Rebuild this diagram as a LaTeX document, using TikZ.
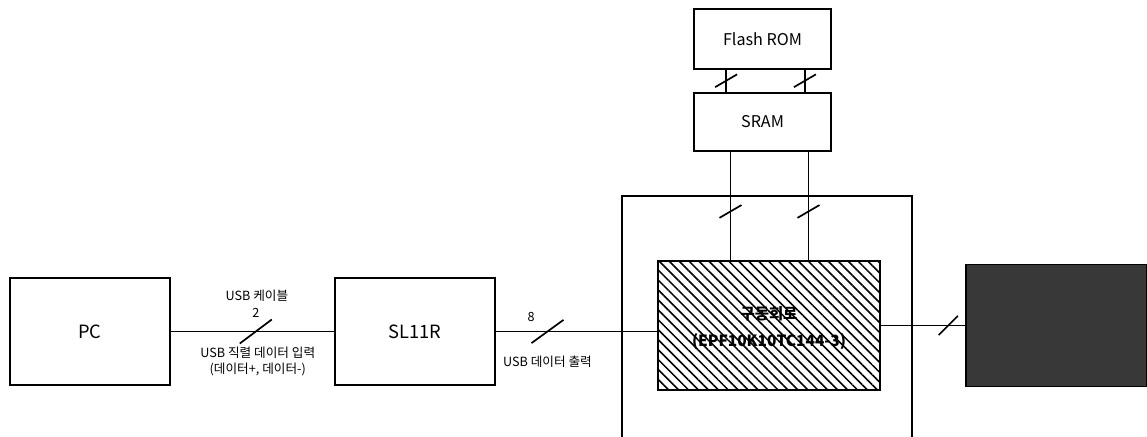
\documentclass[tikz,border=0pt]{standalone}
\usepackage{fontspec}
\setmainfont{Noto Sans CJK KR}
\usetikzlibrary{positioning, calc, patterns.meta}

\begin{document}
\begin{tikzpicture}[
    font=\fontsize{10}{12}\selectfont,
    % --- Styles ---
    unit/.style={draw=black, line width=1.2pt, fill=white, minimum width=4.0cm, minimum height=2.675cm, inner sep=0pt, font=\fontsize{13}{15}\selectfont},
    memory/.style={draw=black, line width=1.2pt, fill=white, minimum width=3.425cm, minimum height=#1, inner sep=0pt, font=\fontsize{11.5}{13}\selectfont},
    driver/.style={draw=black, line width=1.2pt, pattern={Lines[angle=-45, distance=5pt, line width=1.1pt]}, minimum width=5.55cm, minimum height=3.225cm, inner sep=0pt},
    panel_box/.style={draw=black, line width=1.2pt, fill=black!78, minimum width=4.525cm, minimum height=3.05cm, inner sep=0pt},
    wire/.style={draw=black, line width=1pt},
    slash/.style={draw=black, line width=1.2pt},
    tag/.style={align=center, inner sep=0pt, font=\fontsize{9}{11.4}\selectfont},
    chip_text/.style={align=center, inner sep=0pt, font=\fontsize{11}{19}\selectfont\bfseries},
]
    \useasboundingbox (0,0) rectangle (28.675,10.925);

    % ==========================
    % 1. HOST SIDE (Left)
    % ==========================
    \node[unit] (pc) at (2.25, 2.6375) {PC};
    \node[unit] (sl11r) at (10.375, 2.6375) {SL11R};

    \draw[wire] (pc) -- coordinate[pos=0.52] (usb_in) (sl11r);
    \draw[slash] ($(usb_in)+(-0.4,-0.3)$) -- ($(usb_in)+(0.4,0.3)$);
    \node[tag] (cable) at ($(usb_in)+(0.03,0.89)$) {USB 케이블};
    \node[tag] (cnt_in) at ($(usb_in)+(0,0.46)$) {2};
    \node[tag] (serial) at ($(usb_in)+(0.05,-0.74)$) {USB 직렬 데이터 입력\\(데이터+, 데이터-)};

    % ==========================
    % 2. DRIVER BOARD (Middle)
    % ==========================
    \coordinate (frame_bl) at (15.55, 0);
    \coordinate (frame_tr) at (22.8, 6.025);
    \draw[wire] (frame_bl) |- (frame_tr) -- (frame_tr |- frame_bl);

    \node[driver] (drive) at (19.225, 2.7875) {};
    \node[chip_text] (drive_lbl) at ($(drive.center)+(0,-0.07)$) {구동회로\\(EPF10K10TC144-3)};

    \draw[wire] (sl11r.east) -- coordinate[pos=0.32] (usb_out) (sl11r.east -| drive.west);
    \draw[slash] ($(usb_out)+(-0.4,-0.29)$) -- ($(usb_out)+(0.4,0.29)$);
    \node[tag] (cnt_out) at ($(usb_out)+(-0.41,0.37)$) {8};
    \node[tag] (usb_data) at ($(usb_out)+(0,-0.76)$) {USB 데이터 출력};

    % ==========================
    % 3. MEMORY (Top)
    % ==========================
    \node[memory=1.5cm] (flash) at (19.0625, 9.95) {Flash ROM};
    \node[memory=1.45cm] (sram) at (19.0625, 7.875) {SRAM};

    \draw[wire] ($(flash.south)+(-0.91,0)$) -- coordinate[pos=0.49] (fs_a) ($(sram.north)+(-0.91,0)$);
    \draw[wire] ($(flash.south)+(1.06,0)$) -- coordinate[pos=0.49] (fs_b) ($(sram.north)+(1.06,0)$);
    \draw[slash] ($(fs_a)+(-0.275,-0.16)$) -- ($(fs_a)+(0.275,0.16)$);
    \draw[slash] ($(fs_b)+(-0.275,-0.16)$) -- ($(fs_b)+(0.275,0.16)$);

    \coordinate (sd_a_top) at ($(sram.south)+(-0.8,0)$);
    \coordinate (sd_b_top) at ($(sram.south)+(1.15,0)$);
    \draw[wire] (sd_a_top) -- coordinate[pos=0.55] (sd_a) (sd_a_top |- drive.north);
    \draw[wire] (sd_b_top) -- coordinate[pos=0.55] (sd_b) (sd_b_top |- drive.north);
    \draw[slash] ($(sd_a)+(-0.275,-0.16)$) -- ($(sd_a)+(0.275,0.16)$);
    \draw[slash] ($(sd_b)+(-0.275,-0.16)$) -- ($(sd_b)+(0.275,0.16)$);

    % ==========================
    % 4. DISPLAY (Right)
    % ==========================
    \node[panel_box] (panel) at (26.4125, 2.7875) {};

    \draw[wire] (drive.east) -- coordinate[pos=0.8] (disp_in) (drive.east -| panel.west);
    \draw[slash] ($(disp_in)+(-0.24,-0.24)$) -- ($(disp_in)+(0.24,0.24)$);

\end{tikzpicture}
\end{document}
